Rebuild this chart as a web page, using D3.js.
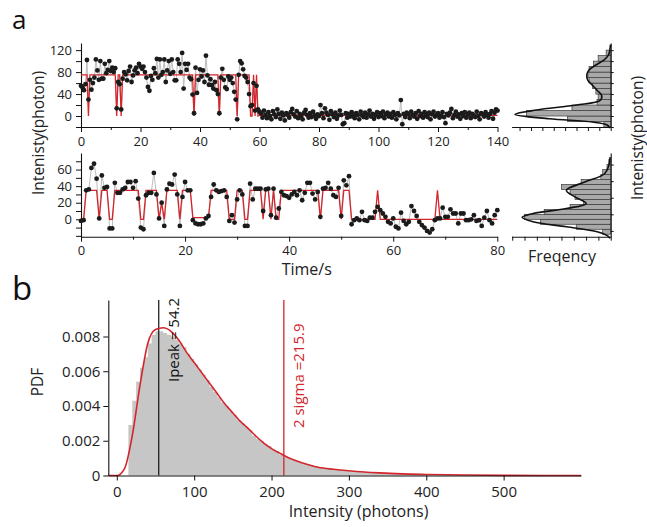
<!DOCTYPE html>
<html>
<head>
<meta charset="utf-8">
<script src="https://cdn.jsdelivr.net/npm/d3@7"></script>
<style>
  body { margin: 0; background: #fff; }
  svg { display: block; font-family: "Open Sans", sans-serif; }
</style>
</head>
<body>
<svg id="fig" width="647" height="527"></svg>
<script>
// ---------------- data ----------------
const frameInterval = 0.5; // seconds between frames

// Trace 1: photon counts per frame, 0–140 s
const topSignal = [
  55,52,47,58,102,30,66,48,60,70,103,83,66,100,68,68,95,78,84,100,
  82,88,80,87,14,62,58,12,68,80,76,65,82,90,62,74,83,88,78,95,
  90,86,90,80,70,53,46,73,66,87,78,104,70,103,75,80,103,62,83,100,
  77,103,80,65,65,103,95,80,115,50,95,84,95,70,67,39,5,88,42,66,
  85,72,83,62,110,74,57,67,56,50,62,47,40,5,70,86,66,52,49,72,
  66,70,60,44,30,-6,75,100,96,85,73,70,62,40,18,20,60,10,55,12,
  8,5,-3,10,2,-4,7,0,-6,9,3,-2,12,4,-5,6,1,-8,5,2,
  -3,7,13,3,-1,9,-4,4,0,-6,6,11,2,-3,5,-2,8,1,-5,3,
  0,20,5,-4,14,6,2,-7,9,3,-2,6,-5,1,10,2,-15,-13,5,-3,
  4,-1,7,0,-4,5,2,-6,8,1,-2,6,-3,3,10,-1,4,-5,2,7,
  -2,5,0,8,-4,3,6,-1,4,-3,7,2,-6,5,1,29,-15,4,-2,6,
  3,-4,8,2,-1,5,-5,9,0,4,-3,7,1,-2,6,-6,3,8,-1,2,
  5,-3,0,7,-2,-13,4,1,6,13,-4,2,8,-1,3,-5,5,0,7,-3,
  2,6,-4,4,1,-2,8,0,-6,5,3,-1,7,2,-3,4,9,-5,6,12,
  10
];
// Step fit of trace 1 (vertices)
const topFitTime  = [0,2,2.5,3,11.5,12,12.5,13,13.5,14,37.5,38,38.5,46,46.5,47,52,52.5,53,56.5,57,57.5,58,58.5,59,59.5,60,140];
const topFitLevel = [75,75,0,75,75,0,75,75,0,75,75,0,75,75,0,75,75,0,75,75,0,0,75,0,75,0,1,1];

// Trace 2: photon counts per frame, 0–80 s
const bottomSignal = [
  -2,-1,35,36,62,67,49,1,53,38,39,-11,-11,44,32,32,36,38,45,45,
  38,46,25,-10,-12,29,32,32,56,30,1,20,-8,36,43,42,54,30,-8,27,
  45,35,35,-1,-5,-6,-6,-5,1,4,27,42,35,33,34,35,27,-2,5,-4,
  24,35,30,-8,-8,43,24,37,37,37,10,36,37,5,37,2,13,33,29,28,
  26,30,33,29,35,23,32,44,44,31,24,33,3,37,38,44,37,29,27,38,
  4,47,41,52,-6,-1,1,-1,9,-1,-2,2,2,9,15,11,7,3,-3,-5,
  1,-9,-11,8,-2,-6,-3,16,10,4,-3,-7,-10,-14,-16,-12,-1,1,1,14,
  3,3,12,7,7,-5,7,7,-1,-1,0,5,-2,-1,-8,2,10,-1,-5,5,
  11
];
const bottomFitTime  = [0,0.5,1,3,3.5,4,5,5.5,6,6.5,11,11.5,12,12.5,14.5,15,15.5,16,16.5,18.5,19,19.5,21,21.5,24.5,25,28,28.5,29.5,30,31,31.5,32,32.5,34.5,35,35.5,36,36.5,37,37.5,38,38.5,45.5,46,46.5,49.5,50,50.5,51.5,52,56.5,57,57.5,68,68.5,69,80];
const bottomFitLevel = [0,0,35,35,0,35,35,0,0,35,35,0,0,35,35,0,20,0,35,35,0,35,35,2,2,35,35,0,0,35,35,0,0,35,35,0,35,35,0,35,0,0,35,35,0,35,35,0,35,35,0,0,35,0,0,35,0,0];

// Intensity histograms beside the traces
const topHistStart = -20, topHistWidth = 10;
const topHistCounts = [0.6,3.8,7.4,3.4,1.2,1.1,1.3,1.6,1.9,2.0,1.9,1.5,1.1,0.4];
const topCurveLevel = [-22,-16,-11,-5,3,11,20,29,38,47,56,65,75,84,93,102,111,120,130];
const topCurveFreq  = [0.05,0.35,1.6,5.4,8.4,6.5,3.0,0.9,0.8,1.2,1.6,2.0,2.1,1.9,1.3,0.6,0.2,0.08,0.02];

const bottomHistStart = -18, bottomHistWidth = 6;
const bottomHistCounts = [0.65,2.8,5.7,7.0,5.4,3.3,2.2,2.9,3.3,4.0,2.4,0.8,0.65,0.3,0.15];
const bottomCurveLevel = [-23,-20,-15,-9,-3,2.4,7,13,19,27,35,45,55,65,75];
const bottomCurveFreq  = [0.05,0.25,1.1,3.6,6.3,7.2,6.3,3.6,2.0,2.9,3.6,2.1,0.5,0.15,0.05];

// Panel b: intensity distribution (5-photon bins from 15)
const pdfBinStart = 15, pdfBinWidth = 5;
const pdfDensity = [
  0.0029,0.0043,0.0054,0.0062,0.0068,0.0076,0.0081,0.0083,0.0083,0.0082,
  0.0081,0.0080,0.0078,0.0076,0.0074,0.0070,0.0067,0.0064,0.0061,0.0058,
  0.0055,0.0051,0.0048,0.0045,0.0042,0.0040,0.0037,0.0035,0.0032,0.0030,
  0.0028,0.0026,0.0023,0.0021,0.0020,0.0018,0.0017,0.0015,0.0014,0.0012,
  0.0011,0.0010,0.00092,0.00084,0.00076,0.00069,0.00063,0.00058,0.00053,0.00049,
  0.00045,0.00041,0.00038,0.00035,0.00032,0.00029,0.00027,0.00025,0.00023,0.00021,
  0.00019,0.00017,0.00016,0.00015,0.00014,0.00013,0.00012,0.00011,0.0001,0.00009,
  0.00009,0.00008,0.00007,0.00007,0.00006,0.00006,0.00005
];
const pdfFitIntensity = [-11,0,10,20,30,40,50,60,70,80,90,100,110,120,130,140,150,160,170,180,190,200,210,220,230,240,250,260,280,300,320,340,360,380,400,450,500,550,600];
const pdfFitDensity = [0,0,0.0004,0.0023,0.0052,0.0076,0.0084,0.0085,0.0083,0.0078,0.0071,0.0065,0.0059,0.0053,0.0047,0.0041,0.0036,0.0031,0.0027,0.00226,0.00187,0.00155,0.0013,0.00106,0.00088,0.00072,0.00059,0.00048,0.00036,0.00027,0.0002,0.00015,0.00011,0.00008,0.00006,0.00003,0.00001,0,0];
const peakIntensity = 54.2;
const twoSigma = 215.9;

// ---------------- drawing ----------------
const RED = "#d3252b";
const FONT = "'Open Sans', sans-serif";
const svg = d3.select("#fig");

function styleAxis(g, size) {
  g.attr("font-family", FONT).attr("font-size", size);
  g.selectAll("path.domain").attr("stroke", "#111").attr("stroke-width", 1.1);
  g.selectAll(".tick line").attr("stroke", "#111").attr("stroke-width", 1);
  g.selectAll(".tick text").attr("fill", "#222");
}

function drawTrace(cfg) {
  const x = d3.scaleLinear().domain(cfg.xDomain).range(cfg.xRange);
  const y = d3.scaleLinear().domain(cfg.yDomain).range(cfg.yRange);
  const pts = cfg.signal.map((v, i) => ({ t: i * frameInterval, v }));
  const fit = cfg.fitTime.map((t, i) => ({ t, v: cfg.fitLevel[i] }));

  const gx = svg.append("g")
    .attr("transform", `translate(0,${cfg.yRange[0]})`)
    .call(d3.axisBottom(x).tickValues(d3.range(cfg.xDomain[0], cfg.xDomain[1] + 1, 10))
      .tickSize(5).tickSizeOuter(0).tickPadding(cfg.xPad)
      .tickFormat(d => d % 20 === 0 ? d : ""));
  gx.selectAll(".tick").filter(d => d % 20 !== 0).select("line").attr("y2", 3);
  styleAxis(gx, 13);

  const gy = svg.append("g")
    .attr("transform", `translate(${cfg.xRange[0]},0)`)
    .call(d3.axisLeft(y).tickValues(cfg.yTicks).tickSize(5).tickSizeOuter(0).tickPadding(4)
      .tickFormat(d => cfg.yLabels.includes(d) ? d : ""));
  styleAxis(gy, 13);

  svg.append("path").datum(pts)
    .attr("fill", "none").attr("stroke", "#bdbdbd").attr("stroke-width", 1)
    .attr("d", d3.line().x(d => x(d.t)).y(d => y(d.v)));
  svg.append("path").datum(fit)
    .attr("fill", "none").attr("stroke", RED).attr("stroke-width", 1.3)
    .attr("d", d3.line().x(d => x(d.t)).y(d => y(d.v)));
  svg.append("g").selectAll("circle").data(pts).join("circle")
    .attr("cx", d => x(d.t)).attr("cy", d => y(d.v)).attr("r", 2.4).attr("fill", "#1b1b1b");
  return y;
}

function drawHist(cfg) {
  const xf = d3.scaleLinear().domain([0, cfg.freqMax]).range([610.7, 511.6]);
  const y = cfg.y;
  const bins = cfg.counts.map((c, i) => ({ lo: cfg.start + i * cfg.width, hi: cfg.start + (i + 1) * cfg.width, c }));
  svg.append("g").selectAll("rect").data(bins).join("rect")
    .attr("x", d => xf(d.c)).attr("width", d => xf(0) - xf(d.c))
    .attr("y", d => y(d.hi)).attr("height", d => y(d.lo) - y(d.hi))
    .attr("fill", "#a9a9a9").attr("stroke", "#3a3a3a").attr("stroke-width", 0.7);
  const curve = cfg.curveLevel.map((v, i) => ({ v, f: cfg.curveFreq[i] }));
  svg.append("path").datum(curve)
    .attr("fill", "none").attr("stroke", "#111").attr("stroke-width", 1.6)
    .attr("d", d3.line().x(d => xf(d.f)).y(d => y(d.v)).curve(d3.curveCatmullRom));

  const gb = svg.append("g").attr("transform", `translate(0,${cfg.baseY})`)
    .call(d3.axisBottom(xf).tickValues(d3.range(0, Math.floor(cfg.freqMax) + 1)).tickSize(4).tickSizeOuter(0).tickFormat(""));
  styleAxis(gb, 10);
  const gr = svg.append("g").attr("transform", `translate(610.7,0)`)
    .call(d3.axisRight(y).tickValues(cfg.ticks).tickSize(3).tickSizeOuter(0).tickFormat(""));
  styleAxis(gr, 10);
}

// ---- panel a, trace 1
const yTop = drawTrace({
  signal: topSignal, fitTime: topFitTime, fitLevel: topFitLevel,
  xDomain: [0, 140], xRange: [81, 497.5],
  yDomain: [-20, 133], yRange: [127, 43],
  yTicks: [-20, 0, 20, 40, 60, 80, 100, 120], yLabels: [0, 40, 80, 120], xPad: 5
});
// ---- panel a, trace 2
const yBottom = drawTrace({
  signal: bottomSignal, fitTime: bottomFitTime, fitLevel: bottomFitLevel,
  xDomain: [0, 80], xRange: [81, 497.3],
  yDomain: [-21, 80], yRange: [236.7, 153],
  yTicks: [-20, -10, 0, 10, 20, 30, 40, 50, 60, 70], yLabels: [0, 20, 40, 60], xPad: 4
});

drawHist({ y: yTop, counts: topHistCounts, start: topHistStart, width: topHistWidth,
  curveLevel: topCurveLevel, curveFreq: topCurveFreq, freqMax: 8.7, baseY: 127,
  ticks: [-20, 0, 20, 40, 60, 80, 100, 120] });
drawHist({ y: yBottom, counts: bottomHistCounts, start: bottomHistStart, width: bottomHistWidth,
  curveLevel: bottomCurveLevel, curveFreq: bottomCurveFreq, freqMax: 8.05, baseY: 236.7,
  ticks: [-14, 6, 26, 46, 66] });

// titles, panel a
svg.append("text").attr("x", 12).attr("y", 29).attr("font-size", 26).attr("fill", "#111").text("a");
svg.append("text").attr("transform", "translate(43.5,133) rotate(-90)")
  .attr("text-anchor", "middle").attr("font-size", 15.5).attr("fill", "#222").text("Intenisty(photon)");
svg.append("text").attr("transform", "translate(642.5,138) rotate(-90)")
  .attr("text-anchor", "middle").attr("font-size", 15.5).attr("fill", "#222").text("Intenisty(photon)");
svg.append("text").attr("x", 306.7).attr("y", 275).attr("text-anchor", "middle")
  .attr("font-size", 16).attr("fill", "#222").text("Time/s");
svg.append("text").attr("x", 562).attr("y", 262).attr("text-anchor", "middle")
  .attr("font-size", 16).attr("fill", "#222").text("Freqency");

// ---- panel b
const xb = d3.scaleLinear().domain([-11, 600]).range([108.3, 581]);
const yb = d3.scaleLinear().domain([0, 0.0101]).range([475.5, 300]);

// histogram drawn as one stepped area so neighbouring bins join seamlessly
const pdfSteps = pdfDensity.map((p, i) => ({ lo: pdfBinStart + i * pdfBinWidth, p }));
pdfSteps.push({ lo: pdfBinStart + pdfDensity.length * pdfBinWidth, p: 0 });
svg.append("path").datum(pdfSteps)
  .attr("fill", "#c6c6c6")
  .attr("d", d3.area().x(d => xb(d.lo)).y0(yb(0)).y1(d => yb(d.p)).curve(d3.curveStepAfter));

svg.append("line").attr("x1", xb(peakIntensity)).attr("x2", xb(peakIntensity))
  .attr("y1", yb(0)).attr("y2", 300).attr("stroke", "#111").attr("stroke-width", 1.2);
svg.append("line").attr("x1", xb(twoSigma)).attr("x2", xb(twoSigma))
  .attr("y1", yb(0)).attr("y2", 300).attr("stroke", RED).attr("stroke-width", 1.3);

const pdfFit = pdfFitIntensity.map((v, i) => ({ v, p: pdfFitDensity[i] }));
svg.append("path").datum(pdfFit)
  .attr("fill", "none").attr("stroke", RED).attr("stroke-width", 1.6)
  .attr("d", d3.line().x(d => xb(d.v)).y(d => yb(d.p)).curve(d3.curveMonotoneX));

const gbx = svg.append("g").attr("transform", `translate(0,${yb(0)})`)
  .call(d3.axisBottom(xb).tickValues([0, 100, 200, 300, 400, 500]).tickSize(5).tickSizeOuter(0).tickPadding(6));
styleAxis(gbx, 15);
const gby = svg.append("g").attr("transform", `translate(${xb(-11)},0)`)
  .call(d3.axisLeft(yb).tickValues([0, 0.002, 0.004, 0.006, 0.008]).tickSize(5).tickSizeOuter(0).tickPadding(3)
    .tickFormat(d => d === 0 ? "0" : d3.format(".3f")(d)));
styleAxis(gby, 15);

svg.append("text").attr("transform", `translate(179,382) rotate(-90)`)
  .attr("font-size", 15).attr("fill", "#111").text(`Ipeak = ${peakIntensity}`);
svg.append("text").attr("transform", `translate(303.5,428) rotate(-90)`)
  .attr("font-size", 15).attr("fill", RED).text(`2 sigma =${twoSigma}`);
svg.append("text").attr("transform", "translate(43,382) rotate(-90)")
  .attr("text-anchor", "middle").attr("font-size", 15.5).attr("fill", "#222").text("PDF");
svg.append("text").attr("x", 358.5).attr("y", 517).attr("text-anchor", "middle")
  .attr("font-size", 16).attr("fill", "#222").text("Intensity (photons)");
svg.append("text").attr("x", 12).attr("y", 300).attr("font-size", 33).attr("fill", "#111").text("b");
</script>
</body>
</html>
